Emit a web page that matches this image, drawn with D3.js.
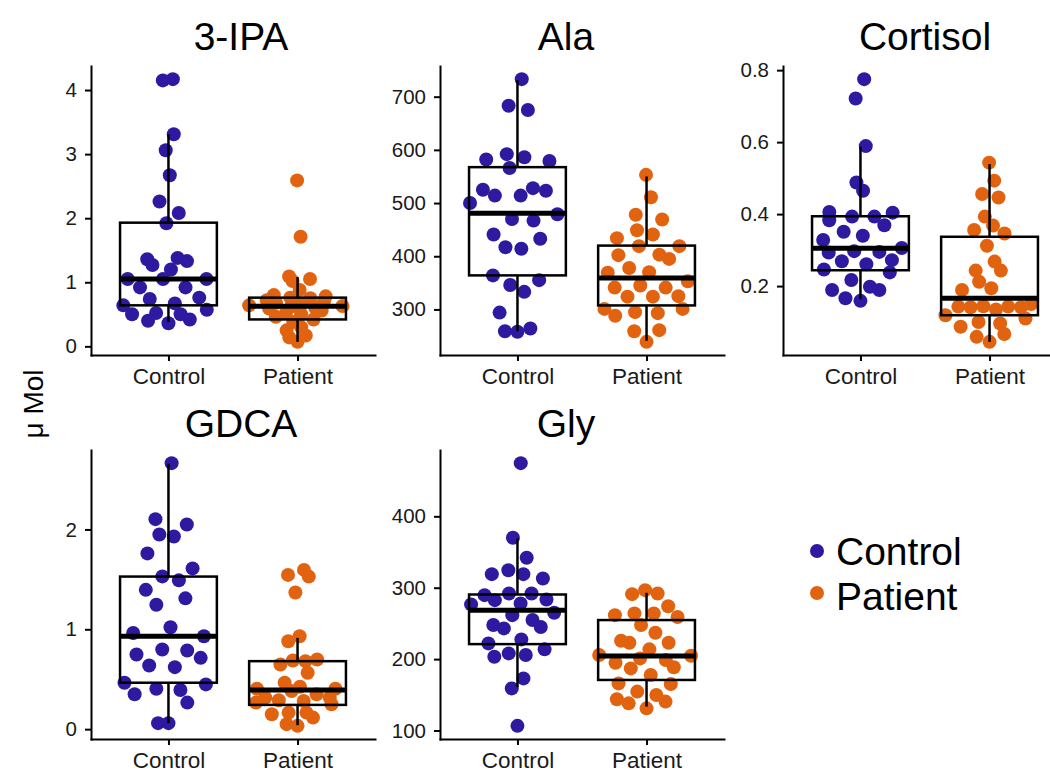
<!DOCTYPE html>
<head>
    <meta charset="utf-8">
    <title>Metabolites : control vs patient</title>
    <style>
        body { margin: 0; background: #fff; }
        text { font-family: "Liberation Sans", Arial, sans-serif; }
    </style>
</head>
<body>

<svg width="1050" height="773"></svg>

<script src="https://d3js.org/d3.v7.min.js"></script>

<script>

    //****************************data************************************//

    var groups = ["Control", "Patient"];
    var metabolites = ["3-IPA", "Ala", "Cortisol", "GDCA", "Gly"];

    // values (u Mol)
    var ipaControl = [4.17, 4.15, 3.31, 3.06, 2.67, 2.26, 2.08, 1.92, 1.38, 1.36, 1.33, 1.27, 1.2, 1.05, 1.05, 1.05,
        0.92, 0.92, 0.76, 0.74, 0.67, 0.64, 0.57, 0.52, 0.5, 0.5, 0.42, 0.4, 0.36];
    var ipaPatient = [2.59, 1.71, 1.09, 1.05, 1.02, 0.88, 0.8, 0.78, 0.76, 0.75, 0.72, 0.7, 0.68, 0.66, 0.64, 0.63,
        0.62, 0.6, 0.59, 0.56, 0.52, 0.5, 0.46, 0.42, 0.38, 0.3, 0.25, 0.17, 0.14, 0.07];

    var alaControl = [733, 683, 675, 592, 586, 582, 579, 566, 528, 525, 523, 514, 514, 500, 479, 470, 467, 441, 433,
        417, 414, 364, 355, 346, 333, 294, 264, 259, 258];
    var alaPatient = [553, 511, 478, 469, 449, 441, 434, 419, 419, 403, 402, 395, 378, 370, 369, 353, 345, 341, 341,
        325, 324, 324, 301, 301, 295, 293, 288, 261, 259, 239];

    var cortisolControl = [0.775, 0.721, 0.589, 0.488, 0.465, 0.406, 0.404, 0.393, 0.393, 0.383, 0.369, 0.351, 0.34,
        0.328, 0.306, 0.297, 0.295, 0.293, 0.272, 0.269, 0.261, 0.246, 0.238, 0.217, 0.198, 0.189, 0.189, 0.166, 0.159];
    var cortisolPatient = [0.543, 0.493, 0.456, 0.446, 0.393, 0.368, 0.356, 0.346, 0.312, 0.268, 0.243, 0.243, 0.212,
        0.194, 0.189, 0.15, 0.144, 0.143, 0.143, 0.141, 0.141, 0.135, 0.119, 0.11, 0.1, 0.096, 0.087, 0.067, 0.059, 0.045];

    var gdcaControl = [2.664, 2.103, 2.05, 1.95, 1.93, 1.76, 1.61, 1.53, 1.49, 1.395, 1.31, 1.246, 1.02, 0.963, 0.93,
        0.797, 0.787, 0.748, 0.714, 0.638, 0.621, 0.465, 0.448, 0.405, 0.392, 0.349, 0.266, 0.06, 0.06];
    var gdcaPatient = [1.595, 1.545, 1.528, 1.369, 0.93, 0.88, 0.698, 0.688, 0.681, 0.648, 0.565, 0.465, 0.425, 0.405,
        0.405, 0.382, 0.349, 0.316, 0.316, 0.29, 0.282, 0.266, 0.249, 0.166, 0.166, 0.15, 0.116, 0.05, 0.033];

    var glyControl = [474.5, 370, 342, 324.5, 319, 319, 313, 292, 292, 289.6, 283.5, 282.6, 278, 276.6, 265, 261.6,
        254.7, 247.7, 245, 243, 227.6, 222, 213.7, 208, 205.7, 203.4, 173, 159, 106.5];
    var glyPatient = [296.6, 292, 291, 274, 264, 264, 261.6, 259, 247.7, 237, 225.8, 223, 223, 213.7, 205.7, 204.8,
        201, 198.8, 195, 188.5, 187, 177.8, 166, 165, 154.5, 149.8, 143.8, 140.5, 138, 131];

    var ipaBox = [[0.38, 0.64, 1.05, 1.93, 3.31], [0.07, 0.42, 0.625, 0.76, 1.08]];
    var alaBox = [[259, 364, 481, 567.5, 731], [241, 307.5, 359, 420, 550]];
    var cortisolBox = [[0.163, 0.244, 0.305, 0.394, 0.587], [0.045, 0.119, 0.166, 0.337, 0.539]];
    var gdcaBox = [[0.06, 0.465, 0.93, 1.528, 2.658], [0.04, 0.243, 0.392, 0.681, 0.914]];
    var glyBox = [[160.6, 221, 268.6, 290.5, 368.8], [133.5, 170.8, 204.3, 254.7, 292.9]];

    // y tick labels
    var ipaTicks = [0, 1, 2, 3, 4];
    var alaTicks = [300, 400, 500, 600, 700];
    var cortisolTicks = [0.2, 0.4, 0.6, 0.8];
    var gdcaTicks = [0, 1, 2];
    var glyTicks = [100, 200, 300, 400];

    //****************************data************************************//


    //svg setting
    var svg = d3.select("svg");

    var color = d3.scaleOrdinal()
        .domain(groups)
        .range(["#2d1aa0", "#e2630f"]);

    //panel layout (facet grid of 3 columns)
    var colLeft = [91, 440, 783],
        titleX = [241, 566, 925],
        rowTop = [66, 450],
        titleY = [50, 437],
        panelW = 284,
        panelH = 289,
        dotR = 7;

    var panels = [
        {name: metabolites[0], values: [ipaControl, ipaPatient], box: ipaBox, ticks: ipaTicks},
        {name: metabolites[1], values: [alaControl, alaPatient], box: alaBox, ticks: alaTicks},
        {name: metabolites[2], values: [cortisolControl, cortisolPatient], box: cortisolBox, ticks: cortisolTicks},
        {name: metabolites[3], values: [gdcaControl, gdcaPatient], box: gdcaBox, ticks: gdcaTicks},
        {name: metabolites[4], values: [glyControl, glyPatient], box: glyBox, ticks: glyTicks}
    ];

    //van der corput sequence (base 2)
    function vdc(i) {
        var r = 0, f = 0.5;
        while (i > 0) { r += f * (i & 1); i >>= 1; f /= 2; }
        return r;
    }

    //quasirandom offsets : spread scaled by the kernel density at each value (like ggbeeswarm)
    function quasirandom(vals) {
        var n = vals.length;
        var sorted = vals.slice().sort(d3.ascending);
        var sd = d3.deviation(vals);
        var iqr = d3.quantileSorted(sorted, 0.75) - d3.quantileSorted(sorted, 0.25);
        var lo = Math.min(sd, iqr / 1.34) || sd;
        var bw = 0.9 * lo * Math.pow(n, -0.2) * 0.5; //nrd0, adjust = 0.5
        var kde = v => d3.sum(vals, u => Math.exp(-0.5 * ((v - u) / bw) * ((v - u) / bw)));
        var grid = d3.range(512).map(i => sorted[0] + (sorted[n - 1] - sorted[0]) * i / 511);
        var dmax = d3.max(grid, kde);
        var idx = d3.range(n).sort((a, b) => vals[a] - vals[b] || a - b);
        var out = [];
        idx.forEach((j, r) => { out[j] = (vdc(r + 1) - 0.5) * 2 * kde(vals[j]) / dmax; });
        return out;
    }

    panels.forEach((p, k) => {
        var col = k % 3, row = Math.floor(k / 3);
        var left = colLeft[col],
            top = rowTop[row];

        var all = p.values[0].concat(p.values[1]);
        var ext = d3.extent(all), pad = (ext[1] - ext[0]) * 0.05;

        var y = d3.scaleLinear()
            .domain([ext[0] - pad, ext[1] + pad])
            .range([top + panelH, top]);
        var x = d3.scalePoint()
            .domain(groups)
            .range([left, left + panelW])
            .padding(0.6);

        var g = svg.append("g").attr("class", "panel");

        //points
        groups.forEach((grp, gi) => {
            var offs = quasirandom(p.values[gi]);
            g.append("g").selectAll("circle")
                .data(p.values[gi])
                .enter().append("circle")
                    .attr("cx", (d, i) => x(grp) + offs[i] * 0.4 * x.step())
                    .attr("cy", d => y(d))
                    .attr("r", dotR)
                    .attr("fill", color(grp));
        });

        //boxes on top of the points
        var hw = x.step() * 0.75 / 2;
        groups.forEach((grp, gi) => {
            var b = p.box[gi], cx = x(grp);
            var bg = g.append("g").attr("stroke", "#000").attr("fill", "none");
            bg.append("line").attr("x1", cx).attr("x2", cx).attr("y1", y(b[0])).attr("y2", y(b[1])).attr("stroke-width", 2.5);
            bg.append("line").attr("x1", cx).attr("x2", cx).attr("y1", y(b[3])).attr("y2", y(b[4])).attr("stroke-width", 2.5);
            bg.append("rect")
                .attr("x", cx - hw)
                .attr("y", y(b[3]))
                .attr("width", hw * 2)
                .attr("height", y(b[1]) - y(b[3]))
                .attr("stroke-width", 2.5);
            bg.append("line").attr("x1", cx - hw).attr("x2", cx + hw).attr("y1", y(b[2])).attr("y2", y(b[2])).attr("stroke-width", 5);
        });

        //axes
        var ax = g.append("g")
            .attr("transform", "translate(0," + (top + panelH) + ")")
            .call(d3.axisBottom(x).tickSize(6).tickSizeOuter(0).tickPadding(7));
        var ay = g.append("g")
            .attr("transform", "translate(" + left + ",0)")
            .call(d3.axisLeft(y).tickValues(p.ticks).tickFormat(d3.format("~g")).tickSize(6).tickSizeOuter(0).tickPadding(8));

        ax.selectAll("text").attr("font-size", 22.5).attr("fill", "#1a1a1a").attr("font-family", null);
        ay.selectAll("text").attr("font-size", 20.5).attr("fill", "#1a1a1a").attr("font-family", null);
        [ax, ay].forEach(a => {
            a.select(".domain").attr("stroke-width", 2).attr("stroke-linecap", "square");
            a.selectAll(".tick line").attr("stroke-width", 2);
        });

        //facet title
        g.append("text")
            .attr("x", titleX[col])
            .attr("y", titleY[row])
            .attr("text-anchor", "middle")
            .attr("font-size", 39)
            .text(p.name);
    });

    //y axis title
    svg.append("text")
        .attr("transform", "translate(43,404) rotate(-90)")
        .attr("text-anchor", "middle")
        .attr("font-size", 28)
        .text("\u03bc Mol");

    //legend
    var lg = svg.append("g").attr("class", "legend");
    groups.forEach((grp, i) => {
        lg.append("circle")
            .attr("cx", 817)
            .attr("cy", 551 + i * 42)
            .attr("r", dotR)
            .attr("fill", color(grp));
        lg.append("text")
            .attr("x", 836)
            .attr("y", 565 + i * 45)
            .attr("font-size", 39)
            .text(grp);
    });

</script>

</body>
